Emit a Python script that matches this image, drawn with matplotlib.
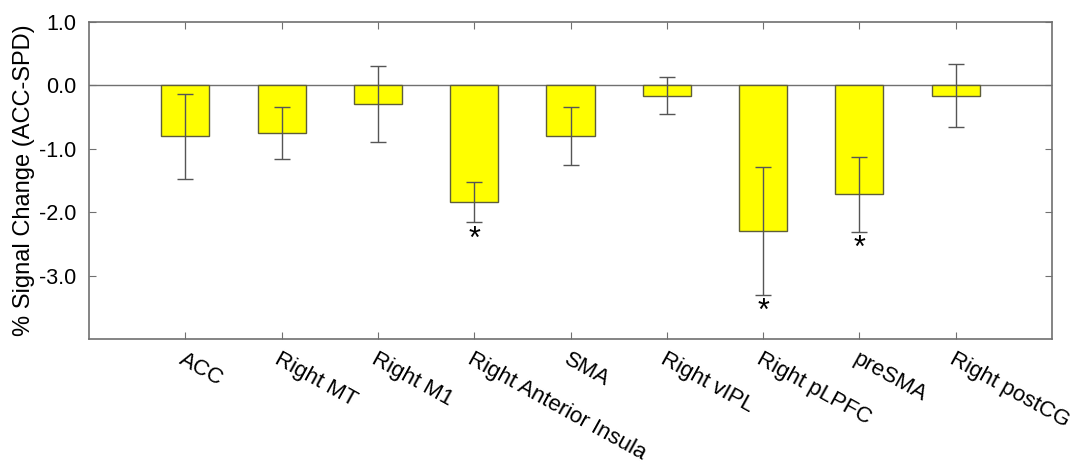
import numpy as np
import matplotlib
matplotlib.use("Agg")
import matplotlib.pyplot as plt

plt.rcParams['font.family'] = ['Liberation Sans', 'DejaVu Sans']

regions = ["ACC", "Right MT", "Right M1", "Right Anterior Insula", "SMA",
           "Right vIPL", "Right pLPFC", "preSMA", "Right postCG"]
change = [-0.80, -0.75, -0.30, -1.84, -0.80, -0.16, -2.29, -1.72, -0.16]
err = [0.67, 0.41, 0.60, 0.32, 0.46, 0.29, 1.01, 0.59, 0.50]
signif = [False, False, False, True, False, False, True, True, False]
yticks = [1.0, 0.0, -1.0, -2.0, -3.0]

grey = "#707070"
x = np.arange(1, len(regions) + 1)

fig = plt.figure(figsize=(10.75, 4.67), dpi=100)
ax = fig.add_axes([89 / 1075, 1 - 339 / 467, (1052 - 89) / 1075, (339 - 22) / 467])

ax.axhline(0, color=grey, lw=1.0, zorder=1)
ax.bar(x, change, width=0.5, color="#ffff00", edgecolor="#5e5e3a", lw=1.0, zorder=2)
ax.errorbar(x, change, yerr=err, fmt="none", ecolor="#555555", elinewidth=1.0,
            capsize=5.5, capthick=1.0, zorder=3)

for xi, c, e, s in zip(x, change, err, signif):
    if s:
        ax.text(xi, c - e - 0.04, "*", ha="center", va="top", fontsize=22, color="black")

ax.set_xlim(0, 10)
ax.set_ylim(-4, 1)
ax.set_yticks(yticks)
ax.set_yticklabels(["%.1f" % v for v in yticks], fontsize=15.5)
ax.set_xticks(x)
ax.set_xticklabels(regions, rotation=-29, ha="left", va="top",
                   rotation_mode="anchor", fontsize=16)
ax.tick_params(axis="both", direction="in", length=5, color=grey,
               top=True, right=True, labeltop=False, labelright=False)
ax.tick_params(axis="x", pad=7)
ax.tick_params(axis="y", pad=9)
for sp in ax.spines.values():
    sp.set_color(grey)
    sp.set_linewidth(1.2)

ax.set_ylabel("% Signal Change (ACC-SPD)", fontsize=17, labelpad=3)

fig.savefig("out.png", dpi=100)
